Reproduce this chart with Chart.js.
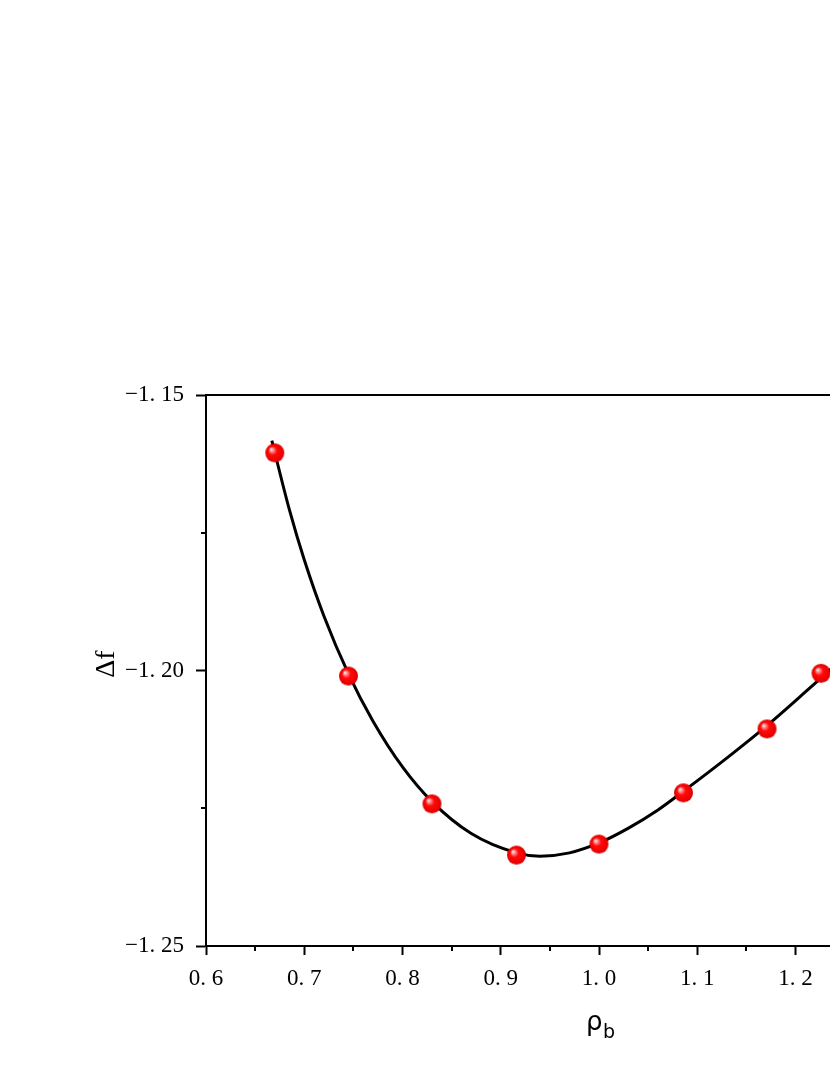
<!DOCTYPE html>
<html>
<head>
<meta charset="utf-8">
<script src="https://cdn.jsdelivr.net/npm/chart.js@4"></script>
<style>
  html, body { margin: 0; padding: 0; background: #fff; overflow: hidden; }
  #wrap { width: 1100px; height: 1075px; }
</style>
</head>
<body>
<div id="wrap"><canvas id="freeEnergyChart" width="1100" height="1075"></canvas></div>
<script>
// measured points
const rhoB = [0.670, 0.745, 0.830, 0.916, 1.000, 1.086, 1.171, 1.226];
const deltaF = [-1.1605, -1.2010, -1.2242, -1.2335, -1.2315, -1.2222, -1.2106, -1.2005];

// fitted curve
const fitRho = [0.667, 0.685, 0.700, 0.720, 0.745, 0.770, 0.800, 0.830, 0.870, 0.916, 0.940, 0.970,
  1.000, 1.030, 1.060, 1.086, 1.130, 1.171, 1.205, 1.235, 1.260];
const fitDf = [-1.1583, -1.1709, -1.1799, -1.1901, -1.2006, -1.2092, -1.2175, -1.2238, -1.2296, -1.2331, -1.2337, -1.2331,
  -1.2313, -1.2286, -1.2253, -1.2219, -1.2159, -1.2100, -1.2047, -1.1999, -1.1956];

// red ball marker
function ballSprite(r) {
  const c = document.createElement("canvas");
  c.width = c.height = r * 2 + 2;
  const g = c.getContext("2d");
  const cx = r + 1;
  const grad = g.createRadialGradient(cx - r * 0.4, cx - r * 0.4, 0, cx, cx, r);
  grad.addColorStop(0, "#ffffff");
  grad.addColorStop(0.18, "#ff9a9a");
  grad.addColorStop(0.45, "#ff0a0a");
  grad.addColorStop(0.85, "#f00000");
  grad.addColorStop(1, "#c80000");
  g.fillStyle = grad;
  g.beginPath();
  g.arc(cx, cx, r, 0, Math.PI * 2);
  g.fill();
  return c;
}

const isMajor = (v, step) => Math.abs(Math.round(v / step) * step - v) < 1e-6;

//! frame, minor ticks and axis titles
const decorations = {
  id: "decorations",
  afterDraw(chart) {
    const { ctx, chartArea: a, scales } = chart;
    ctx.save();
    ctx.strokeStyle = "#000";
    ctx.lineWidth = 2;
    ctx.strokeRect(a.left, a.top, a.right - a.left, a.bottom - a.top);

    ctx.beginPath();
    scales.x.ticks.forEach((t) => {
      if (!isMajor(t.value, 0.1)) {
        const px = Math.round(scales.x.getPixelForValue(t.value));
        ctx.moveTo(px, a.bottom);
        ctx.lineTo(px, a.bottom + 5);
      }
    });
    scales.y.ticks.forEach((t) => {
      if (!isMajor(t.value, 0.05)) {
        const py = Math.round(scales.y.getPixelForValue(t.value));
        ctx.moveTo(a.left, py);
        ctx.lineTo(a.left - 5, py);
      }
    });
    ctx.stroke();

    ctx.fillStyle = "#000";
    ctx.font = "26px 'DejaVu Sans'";
    ctx.textBaseline = "alphabetic";
    ctx.textAlign = "left";
    ctx.fillText("ρ", 586, 1030);
    ctx.font = "19px 'DejaVu Sans'";
    ctx.fillText("b", 603, 1038);

    ctx.translate(114, 664);
    ctx.rotate(-Math.PI / 2);
    ctx.font = "28px 'Liberation Serif'";
    ctx.textAlign = "center";
    ctx.fillText("Δf", 0, 0);
    ctx.restore();
  },
};

const ctx = document.getElementById("freeEnergyChart").getContext("2d");
const chart = new Chart(ctx, {
  type: "scatter",
  data: {
    datasets: [
      {
        label: "data",
        data: rhoB.map((x, i) => ({ x: x, y: deltaF[i] })),
        pointStyle: ballSprite(9.5),
        pointRadius: 10,
        showLine: false,
        order: 0,
      },
      {
        label: "fit",
        data: fitRho.map((x, i) => ({ x: x, y: fitDf[i] })),
        showLine: true,
        borderColor: "#000",
        borderWidth: 3,
        pointRadius: 0,
        cubicInterpolationMode: "monotone",
        order: 1,
      },
    ],
  },
  options: {
    responsive: false,
    animation: false,
    layout: { padding: { left: 0, top: 395, right: 108, bottom: 0 } },
    plugins: { legend: { display: false }, tooltip: { enabled: false } },
    scales: {
      x: {
        type: "linear",
        min: 0.6,
        max: 1.4,
        afterFit: (s) => { s.height = 129; },
        border: { display: true, color: "#000", width: 2 },
        grid: {
          drawOnChartArea: false,
          tickLength: 9,
          tickWidth: 2,
          tickColor: (c) => (c.tick && isMajor(c.tick.value, 0.1) ? "#000" : "rgba(0,0,0,0)"),
        },
        ticks: {
          stepSize: 0.05,
          padding: 10,
          color: "#000",
          font: { family: "'Liberation Serif'", size: 23 },
          callback: (v) => (isMajor(v, 0.1) ? v.toFixed(1).replace(".", ". ") : ""),
          maxRotation: 0,
          autoSkip: false,
        },
      },
      y: {
        min: -1.25,
        max: -1.15,
        afterFit: (s) => { s.width = 206; },
        border: { display: true, color: "#000", width: 2 },
        grid: {
          drawOnChartArea: false,
          tickLength: 10,
          tickWidth: 2,
          tickColor: (c) => (c.tick && isMajor(c.tick.value, 0.05) ? "#000" : "rgba(0,0,0,0)"),
        },
        ticks: {
          stepSize: 0.025,
          padding: 12,
          color: "#000",
          font: { family: "'Liberation Serif'", size: 23 },
          callback: (v) => (isMajor(v, 0.05) ? "−" + Math.abs(v).toFixed(2).replace(".", ". ") : ""),
          autoSkip: false,
        },
      },
    },
  },
  plugins: [decorations],
});
</script>
</body>
</html>
